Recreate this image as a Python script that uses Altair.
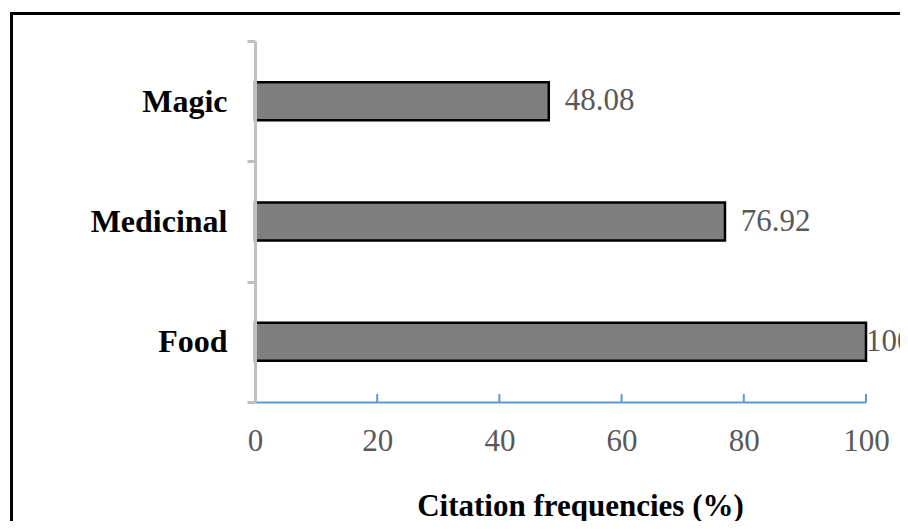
import altair as alt
import pandas as pd

categories = ["Magic", "Medicinal", "Food"]
values = [48.08, 76.92, 100]
x_ticks = [0, 20, 40, 60, 80, 100]

W, H = 611, 361
FONT = "Liberation Serif"

df = pd.DataFrame({"use": categories, "value": values})
ticks_df = pd.DataFrame({"t": x_ticks})
one = pd.DataFrame({"k": [0]})

x_scale = alt.Scale(domain=[0, 100])
y_scale = alt.Scale(domain=categories, paddingInner=0, paddingOuter=0)

bars = alt.Chart(df).mark_bar(
    size=38, color="#7F7F7F", stroke="#000000", strokeWidth=2.5
).encode(
    x=alt.X("value:Q", scale=x_scale,
            axis=alt.Axis(values=x_ticks, title="Citation frequencies (%)",
                          grid=False, ticks=False, tickSize=0,
                          domainColor="#5B9BD5", domainWidth=2,
                          labelFont=FONT, labelFontSize=31, labelColor="#595959",
                          labelBaseline="alphabetic", labelPadding=48,
                          labelFlush=False,
                          titleFont=FONT, titleFontSize=31, titleFontWeight="bold",
                          titleColor="#000000", titleBaseline="alphabetic",
                          titleX=325, titleY=113, titleAlign="center")),
    y=alt.Y("use:N", sort=categories, scale=y_scale,
            axis=alt.Axis(title=None, tickBand="extent", tickSize=8, tickWidth=3,
                          tickColor="#BFBFBF", domainColor="#BFBFBF", domainWidth=3,
                          labelFont=FONT, labelFontSize=32, labelFontWeight="bold",
                          labelColor="#000000", labelPadding=20, zindex=1)),
)

labels = alt.Chart(df).transform_calculate(
    pos="datum.value >= 100 ? datum.value : datum.value + 2.6"
).mark_text(
    align="left", baseline="middle", font=FONT, fontSize=31, color="#595959"
).encode(
    x=alt.X("pos:Q", scale=x_scale),
    y=alt.Y("use:N", sort=categories, scale=y_scale),
    text=alt.Text("value:Q"),
)

xticks = alt.Chart(ticks_df).mark_rule(color="#5B9BD5", strokeWidth=2).encode(
    x=alt.X("t:Q", scale=x_scale),
    y=alt.value(H - 8),
    y2=alt.value(H),
)

border_top = alt.Chart(one).mark_rule(color="#000000", strokeWidth=3).encode(
    x=alt.value(-245), x2=alt.value(W + 80), y=alt.value(-27.5)
)
border_left = alt.Chart(one).mark_rule(color="#000000", strokeWidth=3).encode(
    x=alt.value(-243.5), y=alt.value(-29), y2=alt.value(H + 140)
)

chart = alt.layer(bars, xticks, labels, border_top, border_left).properties(
    width=W, height=H,
    autosize=alt.AutoSizeParams(type="none"),
    padding={"left": 247, "top": 33, "right": 34, "bottom": 119},
).configure_view(stroke=None)

chart.save("out.html", embed_options={"renderer": "svg", "actions": False})
